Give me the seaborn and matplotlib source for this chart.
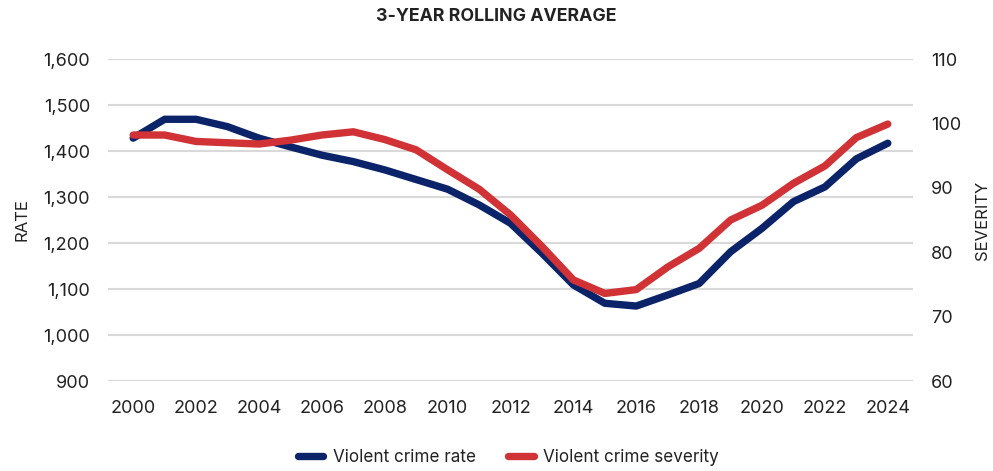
import matplotlib
matplotlib.use("Agg")
import matplotlib.pyplot as plt
import seaborn as sns
import pandas as pd
from matplotlib.lines import Line2D

years = list(range(2000, 2025))
rate = [1428, 1469, 1469, 1453, 1428, 1409, 1391, 1377, 1359, 1338, 1317, 1283,
        1243, 1178, 1109, 1069, 1063, 1087, 1112, 1181, 1232, 1290, 1322, 1383, 1417]
severity = [98.2, 98.2, 97.2, 97.0, 96.8, 97.4, 98.2, 98.7, 97.5, 95.9, 92.8, 89.8,
            85.8, 80.9, 75.7, 73.6, 74.2, 77.7, 80.6, 85.0, 87.3, 90.7, 93.4, 97.8, 99.9]
rate_ticks = [900, 1000, 1100, 1200, 1300, 1400, 1500, 1600]
sev_ticks = [60, 70, 80, 90, 100, 110]
xticks = list(range(2000, 2025, 2))

df = pd.DataFrame({"year": years, "rate": rate, "severity": severity})

sns.set_theme(style="white")
plt.rcParams['font.family'] = ['Inter', 'DejaVu Sans']

navy = "#0B2469"
red = "#D13236"
txt = "#222222"

fig = plt.figure(figsize=(9.93, 4.71), dpi=100)
ax = fig.add_axes([0.1088, 0.191, 0.8106, 0.6837])
ax2 = ax.twinx()

sns.lineplot(data=df, x="year", y="rate", ax=ax, color=navy, linewidth=5.3,
             solid_capstyle="round", solid_joinstyle="round")
sns.lineplot(data=df, x="year", y="severity", ax=ax2, color=red, linewidth=5.3,
             solid_capstyle="round", solid_joinstyle="round")

ax.set_xlim(1999.2, 2024.8)
ax.set_ylim(900, 1600)
ax2.set_ylim(60, 110)
ax.set_yticks(rate_ticks)
ax.set_yticklabels([f"{v:,}" for v in rate_ticks])
ax2.set_yticks(sev_ticks)
ax2.set_yticklabels([str(v) for v in sev_ticks])
ax.set_xticks(xticks)
ax.set_xticklabels([str(v) for v in xticks])

ax.grid(axis="y", color="#D9D9D9", linewidth=1.5)
ax.grid(axis="x", visible=False)
ax2.grid(False)
for a in (ax, ax2):
    for s in a.spines.values():
        s.set_visible(False)
    a.tick_params(length=0, labelsize=13, colors=txt)
ax.tick_params(axis="y", pad=13)
ax2.tick_params(axis="y", pad=13)
ax.tick_params(axis="x", pad=14)

ax.set_xlabel("")
ax.set_ylabel("RATE", fontsize=12, color=txt, labelpad=10)
ax2.set_ylabel("SEVERITY", fontsize=12, color=txt, labelpad=10)

fig.text(0.5, 0.965, "3-YEAR ROLLING AVERAGE", ha="center", va="center",
         fontsize=12.8, fontweight="bold", color=txt)

handles = [Line2D([0], [0], color=navy, lw=5.3, solid_capstyle="round"),
           Line2D([0], [0], color=red, lw=5.3, solid_capstyle="round")]
fig.legend(handles, ["Violent crime rate", "Violent crime severity"],
           loc="center", bbox_to_anchor=(0.512, 0.028), ncol=2, frameon=False,
           fontsize=12.3, handlelength=1.5, columnspacing=1.9, handletextpad=0.55,
           labelcolor=txt)

fig.savefig("out.png", dpi=100)
